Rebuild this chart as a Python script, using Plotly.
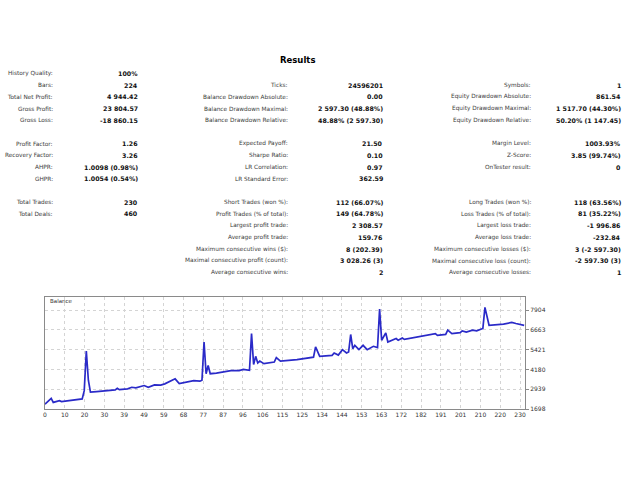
import plotly.graph_objects as go

# report table (blank strings keep the empty rows)
col1_labels = ["History Quality:", "Bars:", "Total Net Profit:", "Gross Profit:", "Gross Loss:", "",
               "Profit Factor:", "Recovery Factor:", "AHPR:", "GHPR:", "",
               "Total Trades:", "Total Deals:"]
col1_values = ["100%", "224", "4 944.42", "23 804.57", "-18 860.15", "",
               "1.26", "3.26", "1.0098 (0.98%)", "1.0054 (0.54%)", "",
               "230", "460"]

col2_labels = ["", "Ticks:", "Balance Drawdown Absolute:", "Balance Drawdown Maximal:",
               "Balance Drawdown Relative:", "",
               "Expected Payoff:", "Sharpe Ratio:", "LR Correlation:", "LR Standard Error:", "",
               "Short Trades (won %):", "Profit Trades (% of total):", "Largest profit trade:",
               "Average profit trade:", "Maximum consecutive wins ($):",
               "Maximal consecutive profit (count):", "Average consecutive wins:"]
col2_values = ["", "24596201", "0.00", "2 597.30 (48.88%)", "48.88% (2 597.30)", "",
               "21.50", "0.10", "0.97", "362.59", "",
               "112 (66.07%)", "149 (64.78%)", "2 308.57", "159.76", "8 (202.39)",
               "3 028.26 (3)", "2"]

col3_labels = ["", "Symbols:", "Equity Drawdown Absolute:", "Equity Drawdown Maximal:",
               "Equity Drawdown Relative:", "",
               "Margin Level:", "Z-Score:", "OnTester result:", "", "",
               "Long Trades (won %):", "Loss Trades (% of total):", "Largest loss trade:",
               "Average loss trade:", "Maximum consecutive losses ($):",
               "Maximal consecutive loss (count):", "Average consecutive losses:"]
col3_values = ["", "1", "861.54", "1 517.70 (44.30%)", "50.20% (1 147.45)", "",
               "1003.93%", "3.85 (99.74%)", "0", "", "",
               "118 (63.56%)", "81 (35.22%)", "-1 996.86", "-232.84", "3 (-2 597.30)",
               "-2 597.30 (3)", "1"]

# balance curve
trade_no = [0, 3, 4, 7, 8, 12, 18, 19, 20, 21, 22, 25, 34, 35, 36, 40, 42, 44, 48, 50,
            53, 56, 58, 63, 65, 72, 75, 76, 77, 78, 79, 80, 83, 90, 94, 96, 99, 100, 101,
            102, 103, 104, 106, 111, 112, 114, 119, 122, 130, 131, 133, 139, 140, 142, 144,
            146, 147, 148, 149, 150, 152, 154, 156, 159, 161, 162, 163, 165, 166, 168, 170,
            171, 173, 174, 180, 189, 190, 194, 195, 197, 201, 202, 204, 207, 209, 212, 213,
            215, 222, 226, 228, 232]
balance = [2000, 2367, 2114, 2222, 2160, 2230, 2330, 2850, 5330, 3500, 2760, 2790, 2900,
           3000, 2910, 2960, 3060, 3020, 3170, 3060, 3210, 3200, 3275, 3590, 3290, 3480,
           3440, 3500, 5900, 3910, 4430, 3910, 3950, 4110, 4110, 4180, 4120, 6430, 4490,
           5000, 4580, 4700, 4540, 4640, 4920, 4700, 4746, 4790, 4950, 5590, 5000, 5060,
           5210, 5080, 5420, 5210, 5270, 6370, 5480, 5690, 5420, 5690, 5420, 5630, 5550,
           7960, 6010, 6470, 5900, 6010, 6120, 6010, 6150, 6065, 6220, 6430, 6320, 6380,
           6640, 6430, 6490, 6600, 6520, 6640, 6600, 6750, 8070, 6950, 7020, 7125, 7060,
           6944]

x_tick_labels = ["0", "10", "20", "30", "39", "49", "59", "68", "77", "87", "96", "106",
                 "115", "125", "134", "144", "153", "163", "172", "182", "191", "201",
                 "210", "220", "230"]
y_ticks = [1698, 2939, 4180, 5421, 6663, 7904]

W, H = 640, 480
FONT = "DejaVu Sans"


def py(pixel_y):
    return 1 - pixel_y / H


def px(pixel_x):
    return pixel_x / W


fig = go.Figure()

fig.add_trace(go.Scatter(
    x=trade_no, y=balance, mode="lines",
    line=dict(color="#2a2ac8", width=1.7),
    hoverinfo="skip", showlegend=False
))

annotations = []
annotations.append(dict(text="<b>Results</b>", x=px(297), y=py(60), xref="paper", yref="paper",
                        showarrow=False, xanchor="center", yanchor="middle",
                        font=dict(family=FONT, size=8.5, color="#000000")))

columns = [
    (col1_labels, col1_values, 55, 139.5),
    (col2_labels, col2_values, 289.5, 384.5),
    (col3_labels, col3_values, 533, 622.5),
]
for labels, values, lab_x, val_x in columns:
    for i, (lab, val) in enumerate(zip(labels, values)):
        yy = py(73.5 + 11.7 * i)
        if lab:
            annotations.append(dict(text=lab, x=px(lab_x), y=yy, xref="paper", yref="paper",
                                    showarrow=False, xanchor="right", yanchor="middle",
                                    font=dict(family=FONT, size=5.8, color="#3c3c3c")))
        if val:
            annotations.append(dict(text="<b>" + val + "</b>", x=px(val_x), y=yy,
                                    xref="paper", yref="paper",
                                    showarrow=False, xanchor="right", yanchor="middle",
                                    font=dict(family=FONT, size=6.3, color="#111111")))

annotations.append(dict(text="Balance", x=px(48), y=py(300.5), xref="paper", yref="paper",
                        showarrow=False, xanchor="left", yanchor="middle",
                        font=dict(family=FONT, size=5.5, color="#333333")))

fig.update_layout(
    width=W, height=H,
    margin=dict(l=0, r=0, t=0, b=0),
    paper_bgcolor="white", plot_bgcolor="white",
    annotations=annotations,
    xaxis=dict(
        domain=[px(45), px(525)], range=[0, 232.4],
        tickvals=[i * 230 / 24 for i in range(len(x_tick_labels))], ticktext=x_tick_labels,
        showgrid=True, gridcolor="#d4d4d4", griddash="dot", gridwidth=1,
        showline=True, mirror=True, linecolor="#8a8a8a", linewidth=1,
        ticks="", zeroline=False, automargin=False,
        tickfont=dict(family=FONT, size=6, color="#333333"),
    ),
    yaxis=dict(
        domain=[py(409), py(296.7)], range=[1698, 8740], side="right",
        tickvals=y_ticks,
        showgrid=True, gridcolor="#d4d4d4", griddash="dot", gridwidth=1,
        showline=True, mirror=True, linecolor="#8a8a8a", linewidth=1,
        ticks="outside", ticklen=3, tickcolor="#8a8a8a", zeroline=False, automargin=False,
        tickfont=dict(family=FONT, size=6, color="#333333"),
    ),
)

# drop the browser's default body margin so the figure sits at the page corner
fig.write_html("out.html", config={"displayModeBar": False},
               post_script="document.body.style.margin = '0';")
